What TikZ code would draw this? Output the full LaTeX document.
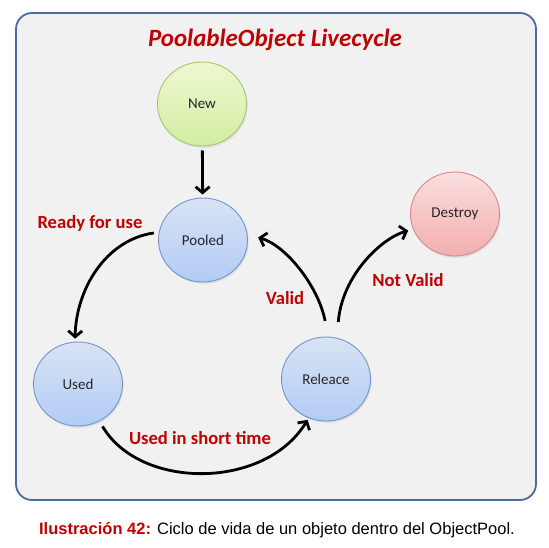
\documentclass[tikz,border=0pt]{standalone}
\usepackage{fontspec}
\setmainfont{Carlito}
\newfontfamily\capfont{Liberation Sans}
\usetikzlibrary{arrows.meta,shadows,shapes.geometric}
\definecolor{lblred}{HTML}{C00000}
\definecolor{frameblue}{HTML}{4A6B9C}
\definecolor{bgray}{HTML}{F1F1F1}
\definecolor{bluetop}{HTML}{D8E3F4}
\definecolor{bluebot}{HTML}{B2CCF5}
\definecolor{blueline}{HTML}{7394CB}
\definecolor{greentop}{HTML}{EEF8D0}
\definecolor{greenbot}{HTML}{D2EDA2}
\definecolor{greenline}{HTML}{A8C66C}
\definecolor{redtop}{HTML}{FBDEDE}
\definecolor{redbot}{HTML}{F4AEAE}
\definecolor{redline}{HTML}{D48A8A}
\tikzset{
  state/.style={ellipse, minimum width=89pt, minimum height=84pt, inner sep=0pt, line width=0.9pt,
    font=\fontsize{15}{17}\selectfont, text=black!85,
    drop shadow={opacity=0.16, shadow xshift=1.2pt, shadow yshift=-1.8pt}},
  bluestate/.style={state, draw=blueline, top color=bluetop, bottom color=bluebot},
  greenstate/.style={state, draw=greenline, top color=greentop, bottom color=greenbot},
  redstate/.style={state, draw=redline, top color=redtop, bottom color=redbot},
  flow/.style={line width=2.8pt, draw=black, -{Straight Barb[length=6pt,width=14pt]}},
  lbl/.style={text=lblred, font=\bfseries\fontsize{18.6}{20}\selectfont, inner sep=0pt}
}
\begin{document}
\begin{tikzpicture}[x=1pt,y=-1pt]
\useasboundingbox (0,0) rectangle (549,547);
\fill[white] (0,0) rectangle (549,547);
\draw[frameblue, line width=1.8pt, fill=bgray, rounded corners=16pt] (16,13) rectangle (536,500);
\node[text=lblred, font=\bfseries\itshape\fontsize{24.9}{28}\selectfont] (title) at (275,40) {PoolableObject Livecycle};

\node[greenstate] (new) at (202,104) {New};
\node[bluestate] (pooled) at (203,240) {Pooled};
\node[bluestate] (used) at (78,384) {Used};
\node[bluestate] (rel) at (326,379) {Releace};
\node[redstate] (destroy) at (455,214) {Destroy};

\draw[flow, shorten <=4pt, shorten >=3pt] (new) -- (pooled);
\draw[flow, shorten <=5pt, shorten >=3pt] (pooled.170) .. controls (105,240) and (76,290) .. (used.94);
\draw[flow, shorten <=6pt, shorten >=2pt] (used.-60) .. controls (140,490) and (265,490) .. (rel.246);
\draw[flow, shorten <=16pt, shorten >=11pt] (rel.87) .. controls (318,285) and (285,245) .. (pooled.7);
\draw[flow, shorten <=16pt, shorten >=5pt] (rel.75) .. controls (342,275) and (382,238) .. (destroy.200);

\node[lbl] (l1) at (90,223) {Ready for use};
\node[lbl] (l2) at (200,438) {Used in short time};
\node[lbl] (l3) at (285,298) {Valid};
\node[lbl] (l4) at (408,280) {Not Valid};

\node[font=\capfont\fontsize{16.5}{19}\selectfont] (cap) at (277,530) {\textcolor{lblred}{\bfseries Ilustración 42:} Ciclo de vida de un objeto dentro del ObjectPool.};
\end{tikzpicture}
\end{document}
